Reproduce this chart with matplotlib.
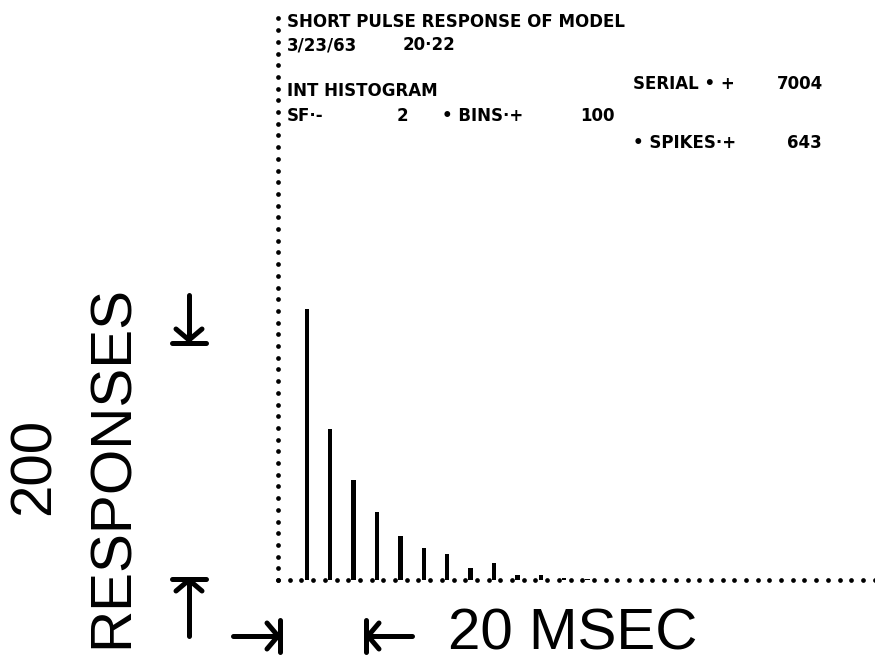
import numpy as np
import matplotlib
matplotlib.use("Agg")
import matplotlib.pyplot as plt

# Interval histogram of the model's short-pulse response
bin_index = list(range(1, 14))
responses = [226, 126, 83, 57, 37, 27, 22, 10, 14, 4, 4, 2, 1]

header_title = "SHORT PULSE RESPONSE OF MODEL"
header_date = "3/23/63"
header_time = "20·22"
hist_kind = "INT HISTOGRAM"
serial_label, serial_value = "SERIAL • +", "7004"
sf_label, sf_value = "SF·-", "2"
bins_label, bins_value = "• BINS·+", "100"
spikes_label, spikes_value = "• SPIKES·+", "643"
y_scale_value, y_scale_unit = "200", "RESPONSES"
x_scale_label = "20 MSEC"
y_scale_count = 200
x_scale_ms = 20

W, H = 875, 661
fig = plt.figure(figsize=(W / 100, H / 100), dpi=100)
fig.patch.set_facecolor("white")

# plot frame in pixels: origin at (278, 580), top at 18
x0, y0, ytop = 278, 580, 18
px_per_ms, px_per_resp = 4.5, 1.2
ax = fig.add_axes([x0 / W, (H - y0) / H, (W - x0) / W, (y0 - ytop) / H])
ax.set_xlim(0, (W - x0) / px_per_ms)
ax.set_ylim(0, (y0 - ytop) / px_per_resp)
ax.axis("off")

# dotted axes
dot_ms = 11.7 / px_per_ms
dot_resp = 11.7 / px_per_resp
xd = np.arange(0, ax.get_xlim()[1] + 0.01, dot_ms)
yd = np.arange(0, ax.get_ylim()[1] + 0.01, dot_resp)
ax.plot(xd, np.zeros_like(xd), "o", color="black", ms=3.4, mec="none", clip_on=False)
ax.plot(np.zeros_like(yd), yd, "o", color="black", ms=3.4, mec="none", clip_on=False)

# histogram bars
bin_ms = 5.2
first_ms = 6.4
xs = [first_ms + (i - 1) * bin_ms for i in bin_index]
ax.bar(xs, responses, width=1.0, color="black", bottom=0)


def seg(xa, ya, xb, yb):
    ax.plot([xa, xb], [ya, yb], color="black", lw=3.6,
            solid_capstyle="round", clip_on=False)


def to_ms(p):
    return p / px_per_ms


def to_resp(p):
    return p / px_per_resp


# vertical scale marker: 200 responses
mx = to_ms(189 - x0)
arm_dx, arm_dy = to_ms(13), to_resp(11)
half_bar = to_ms(17)
# upper limit (arrow pointing down onto a bar)
seg(mx, y_scale_count + to_resp(45), mx, y_scale_count)
seg(mx, y_scale_count, mx - arm_dx, y_scale_count + arm_dy)
seg(mx, y_scale_count, mx + arm_dx, y_scale_count + arm_dy)
seg(mx - half_bar, y_scale_count - to_resp(3), mx + half_bar, y_scale_count - to_resp(3))
# lower limit (arrow pointing up onto a bar)
seg(mx, -to_resp(56), mx, 0)
seg(mx, 0, mx - arm_dx, -arm_dy)
seg(mx, 0, mx + arm_dx, -arm_dy)
seg(mx - half_bar, to_resp(1), mx + half_bar, to_resp(1))

# horizontal scale marker: 20 msec
my = -to_resp(636 - y0)
harm_dx, harm_dy = to_ms(11), to_resp(13)
hbar = to_resp(16)
seg(-to_ms(45), my, 0, my)
seg(0, my, -harm_dx, my + harm_dy)
seg(0, my, -harm_dx, my - harm_dy)
seg(to_ms(2), my - hbar, to_ms(2), my + hbar)
seg(x_scale_ms + to_ms(44), my, x_scale_ms, my)
seg(x_scale_ms, my, x_scale_ms + harm_dx, my + harm_dy)
seg(x_scale_ms, my, x_scale_ms + harm_dx, my - harm_dy)
seg(x_scale_ms - to_ms(2), my - hbar, x_scale_ms - to_ms(2), my + hbar)


def ptext(x, y, s, **kw):
    fig.text(x / W, 1 - y / H, s, **kw)


head = dict(family="DejaVu Sans", weight="bold", fontsize=12,
            va="center", ha="left", color="black")
ptext(287, 22, header_title, **head)
ptext(287, 45, header_date, **head)
ptext(403, 45, header_time, **head)
ptext(287, 91, hist_kind, **head)
ptext(287, 116, sf_label, **head)
ptext(397, 116, sf_value, **head)
ptext(442, 116, bins_label, **head)
ptext(580, 116, bins_value, **head)
ptext(633, 84, serial_label, **head)
ptext(777, 84, serial_value, **head)
ptext(633, 143, spikes_label, **head)
ptext(787, 143, spikes_value, **head)

big = dict(family="Liberation Sans", fontsize=42, color="black")
ptext(35, 466, y_scale_value, rotation=90, ha="center", va="center", **big)
ptext(113, 466, y_scale_unit, rotation=90, ha="center", va="center", **big)
ptext(448, 634, x_scale_label, ha="left", va="center", **big)

fig.savefig("out.png", dpi=100, facecolor="white")
